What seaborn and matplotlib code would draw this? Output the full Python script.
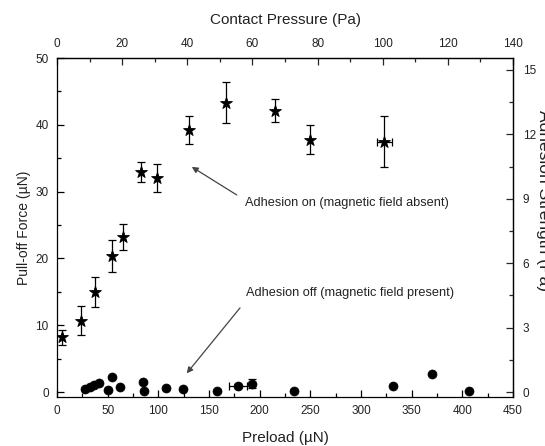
import matplotlib
matplotlib.use("Agg")
import matplotlib.pyplot as plt
import seaborn as sns
import pandas as pd
from matplotlib.ticker import MultipleLocator

# ---- data ----
on_preload = [5.2, 23.4, 37.5, 54.0, 64.9, 82.6, 98.4, 130.6, 166.8, 215.2, 249.8, 323.1]
on_force = [8.2, 10.7, 15.0, 20.3, 23.2, 33.0, 32.0, 39.2, 43.3, 42.1, 37.8, 37.5]
on_force_err = [1.1, 2.2, 2.25, 2.4, 1.9, 1.5, 2.1, 2.05, 3.1, 1.75, 2.2, 3.8]
on_preload_err = [0, 0, 0, 0, 0, 0, 0, 0, 0, 0, 0, 7]

off_preload = [27.6, 32.6, 36.8, 41.8, 50.6, 54.6, 62.2, 85.2, 86.2, 107.6, 124.1,
               157.6, 178.4, 192.2, 234.0, 331.4, 369.9, 406.7]
off_force = [0.5, 0.75, 1.0, 1.35, 0.25, 2.25, 0.75, 1.5, 0.1, 0.65, 0.5,
             0.1, 0.9, 1.25, 0.1, 0.85, 2.7, 0.1]
off_force_err = [0, 0, 0, 0, 0, 0, 0, 0, 0, 0, 0, 0, 0, 0.7, 0, 0, 0, 0]
off_preload_err = [0, 0, 0, 0, 0, 0, 0, 0, 0, 0, 0, 0, 8.6, 0, 0, 0, 0, 0]

pressure_factor = 450.0 / 140.0  # uN per Pa

on_df = pd.DataFrame({"preload": on_preload, "force": on_force})
off_df = pd.DataFrame({"preload": off_preload, "force": off_force})

sns.set_style("ticks")
plt.rcParams["font.family"] = ["Liberation Sans", "DejaVu Sans"]
txt = "#222222"

fig = plt.figure(figsize=(5.45, 4.46), dpi=100)
ax = fig.add_axes([0.1046, 0.1105, 0.8367, 0.7594])

# error bars
ax.errorbar(on_preload, on_force, yerr=on_force_err, xerr=on_preload_err, fmt="none",
            ecolor="black", elinewidth=0.9, capsize=3, capthick=0.9, zorder=2)
ax.errorbar(off_preload, off_force, yerr=off_force_err, xerr=off_preload_err, fmt="none",
            ecolor="black", elinewidth=0.9, capsize=3, capthick=0.9, zorder=2)

sns.scatterplot(data=on_df, x="preload", y="force", marker="*", s=80, color="black",
                edgecolor="black", linewidth=0.6, ax=ax, zorder=3, legend=False)
sns.scatterplot(data=off_df, x="preload", y="force", marker="o", s=42, color="black",
                edgecolor="black", linewidth=0.5, ax=ax, zorder=3, legend=False)

ax.set_xlim(0, 450)
ax.set_ylim(-0.7, 50)
ax.xaxis.set_major_locator(MultipleLocator(50))
ax.xaxis.set_minor_locator(MultipleLocator(25))
ax.yaxis.set_major_locator(MultipleLocator(10))
ax.yaxis.set_minor_locator(MultipleLocator(5))

for sp in ax.spines.values():
    sp.set_visible(True)
    sp.set_linewidth(0.9)
    sp.set_color("black")

ax.tick_params(which="major", direction="in", length=5, width=0.9, labelsize=8.5,
               labelcolor=txt, pad=6, color="black")
ax.tick_params(which="minor", direction="in", length=3, width=0.9, color="black")

ax.set_xlabel("Preload (µN)", fontsize=11, color=txt, labelpad=10)
ax.set_ylabel("Pull-off Force (µN)", fontsize=10, color=txt, labelpad=3)

# secondary axes
secx = ax.secondary_xaxis("top", functions=(lambda x: x / pressure_factor,
                                            lambda p: p * pressure_factor))
secx.xaxis.set_major_locator(MultipleLocator(20))
secx.xaxis.set_minor_locator(MultipleLocator(10))
secx.tick_params(which="major", direction="in", length=5, width=0.9, labelsize=8.5,
                 labelcolor=txt, pad=6)
secx.tick_params(which="minor", direction="in", length=3, width=0.9)
secx.set_xlabel("Contact Pressure (Pa)", fontsize=11, color=txt, labelpad=10)
secx.spines["top"].set_linewidth(0.9)

secy = ax.secondary_yaxis("right", functions=(lambda y: y / pressure_factor,
                                              lambda s: s * pressure_factor))
secy.yaxis.set_major_locator(MultipleLocator(3))
secy.yaxis.set_minor_locator(MultipleLocator(1.5))
secy.tick_params(which="major", direction="in", length=5, width=0.9, labelsize=8.5,
                 labelcolor=txt, pad=7)
secy.tick_params(which="minor", direction="in", length=3, width=0.9)
secy.spines["right"].set_linewidth(0.9)

fig.text(539 / 545, 1 - 201 / 446, "Adhesion Strength (Pa)", rotation=270,
         rotation_mode="anchor", ha="center", va="baseline", fontsize=12.5, color=txt)

# annotations
arrow = dict(arrowstyle="-|>", color="#444444", lw=0.9, mutation_scale=9,
             shrinkA=0, shrinkB=0)
ax.annotate("", xy=(133, 33.7), xytext=(177.4, 29.5), arrowprops=arrow)
ax.text(185.6, 28.3, "Adhesion on (magnetic field absent)", fontsize=9.2,
        color=txt, ha="left", va="center")
ax.annotate("", xy=(128, 2.8), xytext=(180.6, 12.6), arrowprops=arrow)
ax.text(186.6, 14.8, "Adhesion off (magnetic field present)", fontsize=9.2,
        color=txt, ha="left", va="center")

fig.savefig("out.png", dpi=100)
